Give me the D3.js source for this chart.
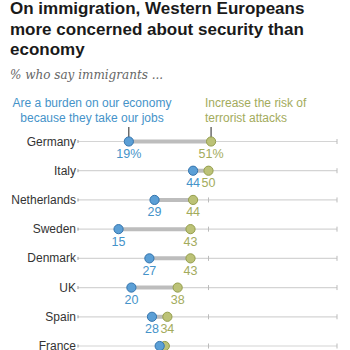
<!DOCTYPE html>
<html>
<head>
<meta charset="utf-8">
<script src="https://cdn.jsdelivr.net/npm/d3@7"></script>
<style>
  body { margin: 0; background: #fff; }
  svg { display: block; }
</style>
</head>
<body>
<div id="chart"></div>
<script>
// 데이터
const countries = ['Germany', 'Italy', 'Netherlands', 'Sweden', 'Denmark', 'UK', 'Spain', 'France'];
const economyValues = [19, 44, 29, 15, 27, 20, 28, 31];
const terrorValues = [51, 50, 44, 43, 43, 38, 34, 33];
const gridTicks = [50, 100];

const width = 350, height = 350;
const blue = '#5b9fd6', blueStroke = '#3474ad', blueText = '#4593c9';
const green = '#bcc277', greenStroke = '#949e4c', greenText = '#a3ab5c';

const svg = d3.select('#chart').append('svg')
    .attr('width', width)
    .attr('height', height);

// 제목
const title = svg.append('text')
    .attr('font-family', 'Liberation Sans, Arial, sans-serif')
    .attr('font-weight', 'bold')
    .attr('font-size', 17)
    .attr('fill', '#1a1a1a');
['On immigration, Western Europeans', 'more concerned about security than', 'economy']
    .forEach((t, i) => title.append('tspan').attr('x', 10).attr('y', 14 + i * 20.5).text(t));

svg.append('text')
    .attr('x', 10).attr('y', 79)
    .attr('font-family', 'DejaVu Serif, Georgia, serif')
    .attr('font-style', 'italic')
    .attr('font-size', 12)
    .attr('fill', '#666')
    .text('% who say immigrants ...');

// 스케일
const x = d3.scaleLinear().domain([0, 100]).range([80, 337]);
const y = d3.scalePoint().domain(countries).range([141.5, 346]);

// 범례 텍스트
const leg1 = svg.append('text')
    .attr('text-anchor', 'middle')
    .attr('font-family', 'Liberation Sans, Arial, sans-serif')
    .attr('font-size', 12)
    .attr('fill', blueText);
['Are a burden on our economy', 'because they take our jobs']
    .forEach((t, i) => leg1.append('tspan').attr('x', 92).attr('y', 107 + i * 14.5).text(t));

const leg2 = svg.append('text')
    .attr('font-family', 'Liberation Sans, Arial, sans-serif')
    .attr('font-size', 12)
    .attr('fill', greenText);
['Increase the risk of', 'terrorist attacks']
    .forEach((t, i) => leg2.append('tspan').attr('x', 205).attr('y', 107 + i * 14.5).text(t));

// 범례 연결선
svg.append('line')
    .attr('x1', x(economyValues[0])).attr('x2', x(economyValues[0]))
    .attr('y1', 127).attr('y2', y(countries[0]) - 4)
    .attr('stroke', '#222').attr('stroke-width', 1);
svg.append('line')
    .attr('x1', x(terrorValues[0])).attr('x2', x(terrorValues[0]))
    .attr('y1', 127).attr('y2', y(countries[0]) - 4)
    .attr('stroke', '#222').attr('stroke-width', 1);

const rows = svg.selectAll('g.row')
    .data(countries)
    .enter()
    .append('g')
    .attr('class', 'row')
    .attr('transform', d => `translate(0,${y(d)})`);

// 배경선
rows.append('line')
    .attr('x1', x(0) - 2).attr('x2', x(100))
    .attr('stroke', '#d4d4d4').attr('stroke-width', 1.2);

gridTicks.forEach(t => {
    rows.append('line')
        .attr('x1', x(t)).attr('x2', x(t))
        .attr('y1', -2.5).attr('y2', 2.5)
        .attr('stroke', '#bbb').attr('stroke-width', 1);
});
rows.append('line')
    .attr('x1', x(0) - 2).attr('x2', x(0) - 2)
    .attr('y1', -1.5).attr('y2', 1.5)
    .attr('stroke', '#999');

// 국가 라벨
rows.append('text')
    .attr('x', 76)
    .attr('y', 4)
    .attr('text-anchor', 'end')
    .attr('font-family', 'Liberation Sans, Arial, sans-serif')
    .attr('font-size', 12)
    .attr('fill', '#333')
    .text(d => d);

// 연결 막대
rows.append('line')
    .attr('x1', (d, i) => x(economyValues[i]))
    .attr('x2', (d, i) => x(terrorValues[i]))
    .attr('stroke', '#bdbdbd').attr('stroke-width', 4);

// 점
rows.append('circle')
    .attr('cx', (d, i) => x(terrorValues[i]))
    .attr('r', 4.6)
    .attr('fill', green).attr('stroke', greenStroke).attr('stroke-width', 1);
rows.append('circle')
    .attr('cx', (d, i) => x(economyValues[i]))
    .attr('r', 4.6)
    .attr('fill', blue).attr('stroke', blueStroke).attr('stroke-width', 1);

// 값 라벨 (프랑스는 잘려서 생략)
const valueRows = rows.filter(d => d !== 'France');
valueRows.append('text')
    .attr('x', (d, i) => x(economyValues[i]))
    .attr('y', 16.5)
    .attr('text-anchor', 'middle')
    .attr('font-family', 'Liberation Sans, Arial, sans-serif')
    .attr('font-size', 12.5)
    .attr('fill', blueText)
    .text((d, i) => economyValues[i] + (i === 0 ? '%' : ''));
valueRows.append('text')
    .attr('x', (d, i) => x(terrorValues[i]))
    .attr('y', 16.5)
    .attr('text-anchor', 'middle')
    .attr('font-family', 'Liberation Sans, Arial, sans-serif')
    .attr('font-size', 12.5)
    .attr('fill', greenText)
    .text((d, i) => terrorValues[i] + (i === 0 ? '%' : ''));
</script>
</body>
</html>
